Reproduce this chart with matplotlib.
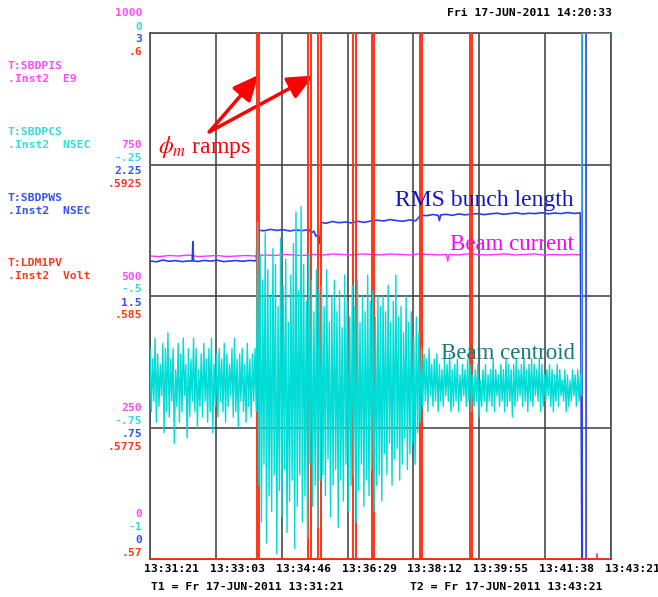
import numpy as np
import matplotlib
matplotlib.use('Agg')
import matplotlib.pyplot as plt

plt.rcParams['mathtext.fontset'] = 'stix'

# time axis: seconds after T1 = 13:31:21, 12 minutes shown
t_span = 720.0
time_labels = ['13:31:21', '13:33:03', '13:34:46', '13:36:29',
               '13:38:12', '13:39:55', '13:41:38', '13:43:21']

# channel names / units
chan_names = ['T:SBDPIS', 'T:SBDPCS', 'T:SBDPWS', 'T:LDM1PV']
chan_units = ['.Inst2  E9', '.Inst2  NSEC', '.Inst2  NSEC', '.Inst2  Volt']

# axis tick labels per channel (bottom -> top)
mag_ticks = ['0', '250', '500', '750', '1000']
cyan_ticks = ['-1', '-.75', '-.5', '-.25', '0']
blue_ticks = ['0', '.75', '1.5', '2.25', '3']
red_ticks = ['.57', '.5775', '.585', '.5925', '.6']
mag_lim = (0.0, 1000.0)
cyan_lim = (-1.0, 0.0)
blue_lim = (0.0, 3.0)
red_lim = (0.57, 0.6)

# colours
c_mag = '#ff4cff'
c_cyan = '#00dcd6'
c_blue = '#2a3fe8'
c_red = '#ff3a1a'

# beam current, E9 (magenta)
mag_t = [0, 15, 30, 45, 60, 75, 90, 105, 120, 135, 150, 165, 180, 195, 210,
         225, 240, 255, 270, 285, 300, 315, 330, 345, 360, 375, 390, 405,
         420, 435, 450, 463, 465, 467, 480, 495, 510, 525, 540, 555, 570,
         585, 600, 615, 630, 645, 660, 674, 675.5, 697, 698, 699, 720]
mag_v = [576, 575, 577, 576, 578, 575, 576, 577, 575, 576, 577, 576, 578, 577,
         579, 578, 577, 579, 578, 580, 579, 578, 580, 579, 578, 580, 579, 578,
         580, 579, 578, 579, 566, 579, 578, 580, 579, 578, 579, 580, 578,
         579, 580, 578, 579, 578, 579, 578, 0, 0, 10, 0, 0]

# RMS bunch length, NSEC (blue)
blue_t = [0, 10, 20, 30, 40, 50, 60, 66, 67, 68, 75, 85, 95, 105, 115, 125,
          135, 145, 155, 166, 168, 178, 188, 198, 208, 218, 228, 238, 248,
          252, 256, 259, 262, 265, 267, 275, 285, 295, 305, 315, 325, 335,
          345, 355, 365, 375, 385, 395, 405, 415, 423, 432, 442, 450, 452,
          454, 462, 472, 482, 492, 502, 512, 522, 532, 542, 552, 562, 572,
          582, 592, 602, 612, 622, 632, 642, 652, 662, 672, 674.5, 674.6,
          675, 681, 681.1, 720]
blue_v = [1.700, 1.695, 1.705, 1.698, 1.702, 1.696, 1.700, 1.700, 1.810,
          1.700, 1.697, 1.703, 1.699, 1.704, 1.696, 1.700, 1.702, 1.698,
          1.703, 1.700, 1.876, 1.872, 1.880, 1.874, 1.878, 1.871, 1.877,
          1.873, 1.879, 1.860, 1.870, 1.840, 1.850, 1.800, 1.920, 1.915,
          1.925, 1.918, 1.922, 1.917, 1.926, 1.920, 1.928, 1.932, 1.928,
          1.936, 1.930, 1.926, 1.934, 1.929, 1.962, 1.958, 1.965, 1.960,
          1.930, 1.962, 1.966, 1.960, 1.968, 1.963, 1.967, 1.970, 1.964,
          1.969, 1.972, 1.966, 1.970, 1.974, 1.968, 1.972, 1.970, 1.975,
          1.969, 1.973, 1.970, 1.976, 1.971, 1.974, 0.0, 0.0, 3.2, 3.2,
          0.0, 0.0]

# beam centroid, NSEC (cyan): alternating high / low samples every 4 s
cent_hi = [-0.60, -0.62, -0.58, -0.61, -0.63, -0.59, -0.60, -0.57, -0.62,
           -0.60, -0.64, -0.59, -0.61, -0.58, -0.63, -0.60, -0.62, -0.58,
           -0.60, -0.64, -0.61, -0.59, -0.62, -0.60, -0.58, -0.63, -0.61,
           -0.60, -0.62, -0.59, -0.61, -0.63, -0.60, -0.58, -0.62, -0.61,
           -0.60, -0.63, -0.59, -0.62, -0.61, -0.60,
           -0.36, -0.42, -0.47, -0.38, -0.45, -0.50, -0.41, -0.44, -0.52,
           -0.39, -0.48, -0.43, -0.55, -0.46, -0.40, -0.34, -0.49, -0.33,
           -0.44, -0.51, -0.42, -0.47, -0.53, -0.45, -0.49,
           -0.48, -0.52, -0.45, -0.55, -0.50, -0.47, -0.53, -0.49, -0.56,
           -0.46, -0.51, -0.54, -0.48, -0.52, -0.47, -0.55, -0.50, -0.53,
           -0.46, -0.51, -0.49, -0.54, -0.50, -0.52,
           -0.50, -0.53, -0.48, -0.55, -0.51, -0.46, -0.54, -0.52, -0.57,
           -0.50, -0.55, -0.53, -0.58, -0.54, -0.57,
           -0.60, -0.61, -0.62, -0.60, -0.63, -0.62, -0.61, -0.63, -0.64,
           -0.62, -0.63, -0.61, -0.64, -0.63, -0.62, -0.65, -0.63, -0.64,
           -0.62, -0.63, -0.65, -0.64, -0.63, -0.66, -0.64, -0.63, -0.65,
           -0.64, -0.62, -0.64, -0.65, -0.63, -0.64, -0.62, -0.63, -0.64,
           -0.63, -0.62, -0.64, -0.63, -0.62, -0.64, -0.63, -0.62, -0.63,
           -0.64, -0.62, -0.63, -0.65, -0.64, -0.63, -0.64, -0.65, -0.63,
           -0.64, -0.66, -0.64, -0.65, -0.66, -0.64, -0.65, -0.64, -0.65]
cent_lo = [-0.72, -0.70, -0.74, -0.71, -0.69, -0.76, -0.72, -0.73, -0.70,
           -0.78, -0.71, -0.74, -0.72, -0.69, -0.77, -0.73, -0.70, -0.72,
           -0.75, -0.71, -0.73, -0.70, -0.74, -0.72, -0.76, -0.71, -0.73,
           -0.70, -0.72, -0.74, -0.71, -0.69, -0.73, -0.72, -0.75, -0.70,
           -0.72, -0.74, -0.71, -0.73, -0.70, -0.72,
           -0.86, -0.93, -0.82, -0.97, -0.88, -0.91, -0.84, -0.99, -0.87,
           -0.92, -0.83, -0.95, -0.89, -0.85, -0.98, -0.90, -0.84, -0.93,
           -0.88, -0.96, -0.82, -0.90, -0.86, -0.94, -0.85,
           -0.84, -0.88, -0.81, -0.92, -0.86, -0.83, -0.94, -0.85, -0.89,
           -0.82, -0.91, -0.86, -0.84, -0.93, -0.87, -0.82, -0.90, -0.85,
           -0.88, -0.83, -0.91, -0.86, -0.84, -0.89,
           -0.80, -0.84, -0.78, -0.86, -0.81, -0.79, -0.85, -0.82, -0.77,
           -0.83, -0.80, -0.78, -0.82, -0.76, -0.74,
           -0.71, -0.70, -0.72, -0.69, -0.71, -0.70, -0.72, -0.70, -0.71,
           -0.69, -0.70, -0.72, -0.71, -0.70, -0.72, -0.70, -0.69, -0.71,
           -0.70, -0.72, -0.71, -0.70, -0.73, -0.71, -0.70, -0.72, -0.70,
           -0.71, -0.72, -0.69, -0.71, -0.70, -0.72, -0.71, -0.70, -0.73,
           -0.71, -0.70, -0.69, -0.71, -0.70, -0.72, -0.70, -0.71, -0.69,
           -0.70, -0.72, -0.71, -0.70, -0.69, -0.71, -0.72, -0.70, -0.71,
           -0.69, -0.70, -0.72, -0.71, -0.70, -0.69, -0.71, -0.70, -0.69]
cent_step = 4.0
cent_end_t = [674.7, 720]
cent_end_v = [0.0, 0.0]

# LDM1PV volts (red): baseline .57 with phase-modulation ramp pulses
red_base = 0.57
red_high = 0.61
ramp_on = [166.6, 247.2, 262.8, 317.5, 346.2, 421.7, 499.8]
ramp_off = [170.2, 251.0, 266.6, 321.7, 349.8, 425.3, 503.4]

# build step trace for the ramps
red_t = [0.0]
red_v = [red_base]
for a, b in zip(ramp_on, ramp_off):
    red_t += [a, a, b, b]
    red_v += [red_base, red_high, red_high, red_base]
red_t.append(t_span)
red_v.append(red_base)

# interleave centroid samples
n = len(cent_hi)
cent_t = np.empty(2 * n)
cent_t[0::2] = np.arange(n) * cent_step
cent_t[1::2] = np.arange(n) * cent_step + cent_step / 2
cent_v = np.empty(2 * n)
cent_v[0::2] = cent_hi
cent_v[1::2] = cent_lo
cent_t = np.concatenate([cent_t, cent_end_t])
cent_v = np.concatenate([cent_v, cent_end_v])

fig = plt.figure(figsize=(6.58, 5.97), dpi=100)
ax = fig.add_axes([150 / 658, 38 / 597, 461 / 658, 526 / 597])
ax_b = ax.twinx()
ax_r = ax.twinx()
ax_c = ax.twinx()

ax.set_xlim(0, t_span)
ax.set_ylim(*mag_lim)
ax_b.set_ylim(*blue_lim)
ax_c.set_ylim(*cyan_lim)
ax_r.set_ylim(*red_lim)

xt = np.linspace(0, t_span, len(time_labels))
ax.set_xticks(xt)
ax.set_yticks(np.linspace(*mag_lim, 5))
ax.grid(True, color='#3a3a3a', lw=1.1)
for a in (ax, ax_b, ax_c, ax_r):
    a.tick_params(length=0, labelleft=False, labelright=False,
                  labelbottom=False)
    for s in a.spines.values():
        s.set_visible(False)
for s in ax.spines.values():
    s.set_visible(True)
    s.set_color('#555555')
    s.set_linewidth(1.3)

ax.plot(mag_t, mag_v, color='#ff33ff', lw=1.0)
ax_b.plot(blue_t, blue_v, color=c_blue, lw=1.2)
ax_r.plot(red_t, red_v, color='#ff3418', lw=1.4)
ax_c.plot(cent_t, cent_v, color=c_cyan, lw=1.0)

# left scale labels, four colours stacked around each grid line
cols = [c_mag, '#33dddd', '#3355ee', c_red]
sets = [(ax, mag_ticks, mag_lim), (ax_c, cyan_ticks, cyan_lim),
        (ax_b, blue_ticks, blue_lim), (ax_r, red_ticks, red_lim)]
offs = [19.5, 6.5, -6.5, -19.5]
mono = dict(family='DejaVu Sans Mono', fontsize=8.2, fontweight='bold')
for (a, labs, lim), col, dy in zip(sets, cols, offs):
    vals = np.linspace(lim[0], lim[1], len(labs))
    for i, (v, lab) in enumerate(zip(vals, labs)):
        shift = 25.5 if i == 0 else 0
        a.annotate(lab, xy=(0, v), xycoords=a.get_yaxis_transform(),
                   xytext=(-8, dy + shift), textcoords='offset pixels',
                   ha='right', va='center', color=col, **mono)

# channel names
name_y = [66, 132, 198, 263]
for nm, un, col, y in zip(chan_names, chan_units, cols, name_y):
    fig.text(8 / 658, 1 - y / 597, nm, color=col, va='center', **mono)
    fig.text(8 / 658, 1 - (y + 13) / 597, un, color=col, va='center', **mono)

# time labels
for x, lab in zip(xt, time_labels):
    ax.annotate(lab, xy=(x, 0), xycoords=ax.get_xaxis_transform(),
                xytext=(-6, -10), textcoords='offset pixels', ha='left',
                va='center', annotation_clip=False, **mono)

fig.text(612 / 658, 1 - 13 / 597, 'Fri 17-JUN-2011 14:20:33',
         ha='right', va='center', **mono)
fig.text(151 / 658, 1 - 587 / 597, 'T1 = Fr 17-JUN-2011 13:31:21',
         va='center', **mono)
fig.text(410 / 658, 1 - 587 / 597, 'T2 = Fr 17-JUN-2011 13:43:21',
         va='center', **mono)

# annotations
serif = 'Liberation Serif'
ax.text(12.5, 772, r'$\phi_m$ ramps', color='red', family=serif,
        fontsize=17, va='baseline')
for head in [(169.2, 920), (255.1, 919)]:
    ax.annotate('', xy=head, xytext=(92.6, 812),
                arrowprops=dict(arrowstyle='-|>,head_length=0.7,head_width=0.32',
                                color='red', lw=2.5, mutation_scale=22,
                                shrinkA=0, shrinkB=0))
ax_c.text(521.6, -1 + 0.671, 'RMS bunch length', color='#1414cc',
          family=serif, fontsize=17, ha='center', va='baseline')
ax_c.text(564.6, -1 + 0.587, 'Beam current', color='#ff00ff',
          family=serif, fontsize=16.5, ha='center', va='baseline')
ax_c.text(559, -1 + 0.380, 'Beam centroid', color='#157a7a',
          family=serif, fontsize=16.5, ha='center', va='baseline')

fig.savefig('out.png', dpi=100)
